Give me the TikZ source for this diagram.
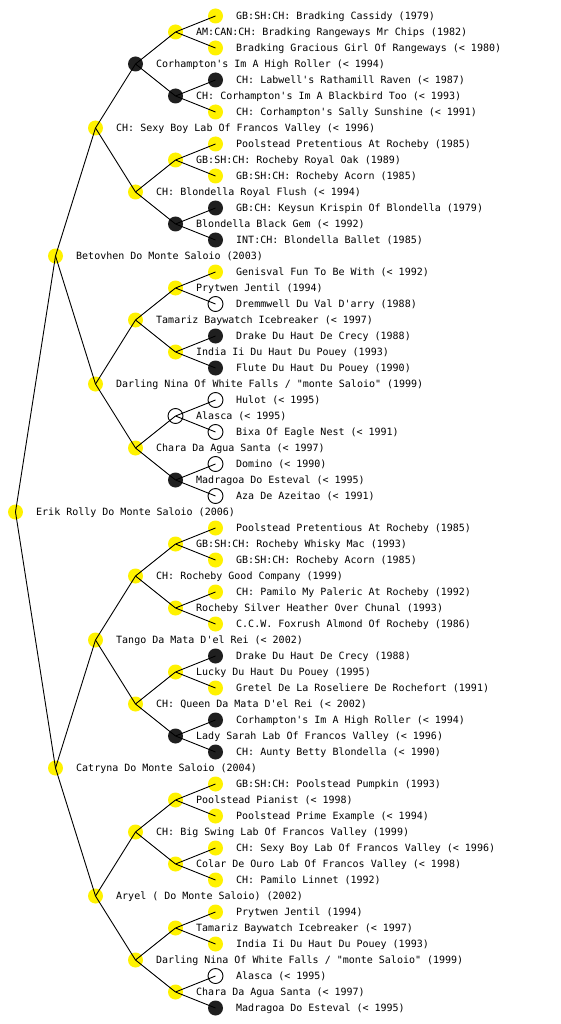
\documentclass[tikz,border=0pt]{standalone}
\usepackage{fontspec}
\newfontfamily\pedfont{DejaVu Sans Mono}
\begin{document}
\begin{tikzpicture}[x=1pt,y=-1pt,
  dot/.style={circle,minimum size=15pt,inner sep=0pt},
  yel/.style={dot,fill=yellow},
  blk/.style={dot,fill=black!88},
  wht/.style={dot,draw=black,fill=white,line width=0.9pt},
  lab/.style={anchor=west,inner sep=0pt,font=\pedfont\fontsize{10}{12}\selectfont,text height=7.3pt,text depth=0pt},
  edge/.style={draw=black,line width=0.9pt}]
\useasboundingbox[fill=white] (0,0) rectangle (560,1024);
\newcommand\pn[5]{\node[#4] (#1) at (#2,#3) {}; \node[lab] (#1t) at (#2+20.5,#3) {#5};}
% root
\pn{r}{15.5}{512}{yel}{Erik Rolly Do Monte Saloio (2006)}
% gen 1
\pn{a1}{55.5}{256}{yel}{Betovhen Do Monte Saloio (2003)}
\pn{a2}{55.5}{768}{yel}{Catryna Do Monte Saloio (2004)}
% gen 2
\pn{b1}{95.5}{128}{yel}{CH: Sexy Boy Lab Of Francos Valley (< 1996)}
\pn{b2}{95.5}{384}{yel}{Darling Nina Of White Falls / "monte Saloio" (1999)}
\pn{b3}{95.5}{640}{yel}{Tango Da Mata D'el Rei (< 2002)}
\pn{b4}{95.5}{896}{yel}{Aryel ( Do Monte Saloio) (2002)}
% gen 3
\pn{c1}{135.5}{64}{blk}{Corhampton's Im A High Roller (< 1994)}
\pn{c2}{135.5}{192}{yel}{CH: Blondella Royal Flush (< 1994)}
\pn{c3}{135.5}{320}{yel}{Tamariz Baywatch Icebreaker (< 1997)}
\pn{c4}{135.5}{448}{yel}{Chara Da Agua Santa (< 1997)}
\pn{c5}{135.5}{576}{yel}{CH: Rocheby Good Company (1999)}
\pn{c6}{135.5}{704}{yel}{CH: Queen Da Mata D'el Rei (< 2002)}
\pn{c7}{135.5}{832}{yel}{CH: Big Swing Lab Of Francos Valley (1999)}
\pn{c8}{135.5}{960}{yel}{Darling Nina Of White Falls / "monte Saloio" (1999)}
% gen 4
\pn{d1}{175.5}{32}{yel}{AM:CAN:CH: Bradking Rangeways Mr Chips (1982)}
\pn{d2}{175.5}{96}{blk}{CH: Corhampton's Im A Blackbird Too (< 1993)}
\pn{d3}{175.5}{160}{yel}{GB:SH:CH: Rocheby Royal Oak (1989)}
\pn{d4}{175.5}{224}{blk}{Blondella Black Gem (< 1992)}
\pn{d5}{175.5}{288}{yel}{Prytwen Jentil (1994)}
\pn{d6}{175.5}{352}{yel}{India Ii Du Haut Du Pouey (1993)}
\pn{d7}{175.5}{416}{wht}{Alasca (< 1995)}
\pn{d8}{175.5}{480}{blk}{Madragoa Do Esteval (< 1995)}
\pn{d9}{175.5}{544}{yel}{GB:SH:CH: Rocheby Whisky Mac (1993)}
\pn{d10}{175.5}{608}{yel}{Rocheby Silver Heather Over Chunal (1993)}
\pn{d11}{175.5}{672}{yel}{Lucky Du Haut Du Pouey (1995)}
\pn{d12}{175.5}{736}{blk}{Lady Sarah Lab Of Francos Valley (< 1996)}
\pn{d13}{175.5}{800}{yel}{Poolstead Pianist (< 1998)}
\pn{d14}{175.5}{864}{yel}{Colar De Ouro Lab Of Francos Valley (< 1998)}
\pn{d15}{175.5}{928}{yel}{Tamariz Baywatch Icebreaker (< 1997)}
\pn{d16}{175.5}{992}{yel}{Chara Da Agua Santa (< 1997)}
% gen 5
\pn{e1}{215.5}{16}{yel}{GB:SH:CH: Bradking Cassidy (1979)}
\pn{e2}{215.5}{48}{yel}{Bradking Gracious Girl Of Rangeways (< 1980)}
\pn{e3}{215.5}{80}{blk}{CH: Labwell's Rathamill Raven (< 1987)}
\pn{e4}{215.5}{112}{yel}{CH: Corhampton's Sally Sunshine (< 1991)}
\pn{e5}{215.5}{144}{yel}{Poolstead Pretentious At Rocheby (1985)}
\pn{e6}{215.5}{176}{yel}{GB:SH:CH: Rocheby Acorn (1985)}
\pn{e7}{215.5}{208}{blk}{GB:CH: Keysun Krispin Of Blondella (1979)}
\pn{e8}{215.5}{240}{blk}{INT:CH: Blondella Ballet (1985)}
\pn{e9}{215.5}{272}{yel}{Genisval Fun To Be With (< 1992)}
\pn{e10}{215.5}{304}{wht}{Dremmwell Du Val D'arry (1988)}
\pn{e11}{215.5}{336}{blk}{Drake Du Haut De Crecy (1988)}
\pn{e12}{215.5}{368}{blk}{Flute Du Haut Du Pouey (1990)}
\pn{e13}{215.5}{400}{wht}{Hulot (< 1995)}
\pn{e14}{215.5}{432}{wht}{Bixa Of Eagle Nest (< 1991)}
\pn{e15}{215.5}{464}{wht}{Domino (< 1990)}
\pn{e16}{215.5}{496}{wht}{Aza De Azeitao (< 1991)}
\pn{e17}{215.5}{528}{yel}{Poolstead Pretentious At Rocheby (1985)}
\pn{e18}{215.5}{560}{yel}{GB:SH:CH: Rocheby Acorn (1985)}
\pn{e19}{215.5}{592}{yel}{CH: Pamilo My Paleric At Rocheby (1992)}
\pn{e20}{215.5}{624}{yel}{C.C.W. Foxrush Almond Of Rocheby (1986)}
\pn{e21}{215.5}{656}{blk}{Drake Du Haut De Crecy (1988)}
\pn{e22}{215.5}{688}{yel}{Gretel De La Roseliere De Rochefort (1991)}
\pn{e23}{215.5}{720}{blk}{Corhampton's Im A High Roller (< 1994)}
\pn{e24}{215.5}{752}{blk}{CH: Aunty Betty Blondella (< 1990)}
\pn{e25}{215.5}{784}{yel}{GB:SH:CH: Poolstead Pumpkin (1993)}
\pn{e26}{215.5}{816}{yel}{Poolstead Prime Example (< 1994)}
\pn{e27}{215.5}{848}{yel}{CH: Sexy Boy Lab Of Francos Valley (< 1996)}
\pn{e28}{215.5}{880}{yel}{CH: Pamilo Linnet (1992)}
\pn{e29}{215.5}{912}{yel}{Prytwen Jentil (1994)}
\pn{e30}{215.5}{944}{yel}{India Ii Du Haut Du Pouey (1993)}
\pn{e31}{215.5}{976}{wht}{Alasca (< 1995)}
\pn{e32}{215.5}{1008}{blk}{Madragoa Do Esteval (< 1995)}
% connectors
\draw[edge] (r.center) -- (a1.center) (r.center) -- (a2.center);
\foreach \i in {1,2}{\pgfmathtruncatemacro\j{2*\i-1}\pgfmathtruncatemacro\k{2*\i}
  \draw[edge] (a\i.center) -- (b\j.center) (a\i.center) -- (b\k.center);}
\foreach \i in {1,...,4}{\pgfmathtruncatemacro\j{2*\i-1}\pgfmathtruncatemacro\k{2*\i}
  \draw[edge] (b\i.center) -- (c\j.center) (b\i.center) -- (c\k.center);}
\foreach \i in {1,...,8}{\pgfmathtruncatemacro\j{2*\i-1}\pgfmathtruncatemacro\k{2*\i}
  \draw[edge] (c\i.center) -- (d\j.center) (c\i.center) -- (d\k.center);}
\foreach \i in {1,...,16}{\pgfmathtruncatemacro\j{2*\i-1}\pgfmathtruncatemacro\k{2*\i}
  \draw[edge] (d\i.center) -- (e\j.center) (d\i.center) -- (e\k.center);}
\end{tikzpicture}
\end{document}
